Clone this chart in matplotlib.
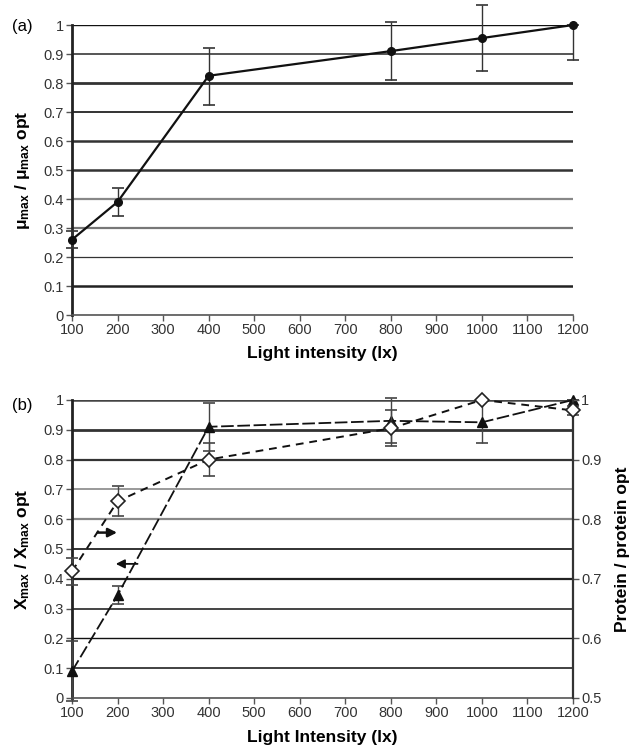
import matplotlib
matplotlib.use('Agg')
import matplotlib.pyplot as plt
from matplotlib.ticker import FormatStrFormatter

plt.rcParams['font.family'] = ['Liberation Sans', 'DejaVu Sans']
plt.rcParams['mathtext.fontset'] = 'custom'
plt.rcParams['mathtext.rm'] = 'Liberation Sans'
plt.rcParams['mathtext.bf'] = 'Liberation Sans:bold'
plt.rcParams['mathtext.default'] = 'bf'

# data
light = [100, 200, 400, 800, 1000, 1200]

# (a) growth rate
mu_rel = [0.26, 0.39, 0.825, 0.91, 0.955, 1.0]
mu_err_lo = [0.03, 0.047, 0.10, 0.10, 0.115, 0.12]
mu_err_hi = [0.03, 0.047, 0.095, 0.10, 0.115, 0.0]

# (b) biomass (left axis) and protein (right axis)
x_rel = [0.09, 0.345, 0.91, 0.93, 0.925, 1.0]
x_err = [0.10, 0.03, 0.08, 0.075, 0.07, 0.0]
protein_rel = [0.7125, 0.83, 0.90, 0.9525, 1.0, 0.9825]
protein_err = [0.023, 0.025, 0.027, 0.03, 0.0, 0.008]

x_ticks = list(range(100, 1300, 100))
y_ticks = [i / 10 for i in range(11)]
y2_ticks = [0.5, 0.6, 0.7, 0.8, 0.9, 1.0]

# gridline looks (scanned figure, uneven lines)
grid_a = [('#444444', 0.8), ('#222222', 1.8), ('#333333', 0.9), ('#777777', 1.6), ('#888888', 1.6),
          ('#333333', 1.8), ('#333333', 1.8), ('#111111', 1.2), ('#333333', 2.0), ('#555555', 1.4), ('#111111', 1.0)]
grid_b = [('#444444', 0.8), ('#333333', 1.3), ('#111111', 1.0), ('#444444', 1.4), ('#222222', 1.6),
          ('#222222', 1.3), ('#888888', 1.6), ('#999999', 1.4), ('#333333', 1.6), ('#333333', 2.0), ('#444444', 1.8)]

fig = plt.figure(figsize=(6.35, 7.49), dpi=100)
ax1 = fig.add_axes([0.1134, 0.5794, 0.789, 0.3872])
ax2 = fig.add_axes([0.1134, 0.0681, 0.789, 0.3979])


def style_axes(ax, grid):
    ax.set_xlim(100, 1200)
    ax.set_ylim(0, 1)
    ax.set_xticks(x_ticks)
    ax.set_yticks(y_ticks)
    ax.yaxis.set_major_formatter(FormatStrFormatter('%g'))
    for y, (c, lw) in zip(y_ticks, grid):
        ax.axhline(y, color=c, lw=lw, zorder=1)
    ax.spines['top'].set_visible(False)
    ax.spines['right'].set_visible(False)
    ax.spines['left'].set_linewidth(2.0)
    ax.spines['left'].set_color('#222222')
    ax.spines['bottom'].set_linewidth(1.2)
    ax.spines['bottom'].set_color('#555555')
    ax.tick_params(axis='both', labelsize=10.5, labelcolor='#333333', length=4, width=1,
                   color='#555555', pad=2)
    ax.yaxis.set_label_coords(-0.08, 0.5)
    ax.xaxis.set_label_coords(0.495, -0.108)


# panel (a)
style_axes(ax1, grid_a)
ax1.errorbar(light, mu_rel, yerr=[mu_err_lo, mu_err_hi], fmt='none', ecolor='#333333',
             elinewidth=1.0, capsize=4, capthick=1.2, zorder=3, clip_on=False)
ax1.plot(light, mu_rel, color='#111111', lw=1.6, marker='o', ms=5.5, zorder=4, clip_on=False)
ax1.set_xlabel('Light intensity (lx)', fontsize=12.5, fontweight='bold')
ax1.set_ylabel('μ$_{max}$ / μ$_{max}$ opt', fontsize=12.5, fontweight='bold')
ax1.text(-0.12, 0.995, '(a)', transform=ax1.transAxes, fontsize=12, va='center', ha='left')

# panel (b)
style_axes(ax2, grid_b)
ax2.errorbar(light, x_rel, yerr=x_err, fmt='none', ecolor='#444444', elinewidth=1.0,
             capsize=4, capthick=1.2, zorder=3, clip_on=False)
ax2.plot(light, x_rel, color='#111111', lw=1.3, ls=(0, (7, 2)), marker='^', ms=7,
         zorder=4, clip_on=False)
ax2.set_xlabel('Light Intensity (lx)', fontsize=12.5, fontweight='bold')
ax2.set_ylabel('X$_{max}$ / X$_{max}$ opt', fontsize=12.5, fontweight='bold')
ax2.text(-0.12, 0.98, '(b)', transform=ax2.transAxes, fontsize=12, va='center', ha='left')

ax2r = ax2.twinx()
ax2r.set_ylim(0.5, 1.0)
ax2r.set_yticks(y2_ticks)
ax2r.yaxis.set_major_formatter(FormatStrFormatter('%g'))
ax2r.errorbar(light, protein_rel, yerr=protein_err, fmt='none', ecolor='#444444',
              elinewidth=1.0, capsize=4, capthick=1.2, zorder=3, clip_on=False)
ax2r.plot(light, protein_rel, color='#111111', lw=1.4, ls=(0, (4, 3)), marker='D', ms=7,
          mfc='white', mec='#222222', mew=1.2, zorder=4, clip_on=False)
for s in ['top', 'left', 'bottom']:
    ax2r.spines[s].set_visible(False)
ax2r.spines['right'].set_linewidth(1.6)
ax2r.spines['right'].set_color('#333333')
ax2r.tick_params(axis='y', labelsize=10.5, labelcolor='#333333', length=4, width=1,
                 color='#555555', pad=2)
ax2r.set_ylabel('Protein / protein opt', fontsize=12.5, fontweight='bold')
ax2r.yaxis.set_label_coords(1.084, 0.5)

# arrows pointing to each series' axis
ax2.annotate('', xy=(205, 0.555), xytext=(150, 0.555),
             arrowprops=dict(arrowstyle='-|>', color='#111111', lw=1.8, mutation_scale=13))
ax2.annotate('', xy=(190, 0.45), xytext=(250, 0.45),
             arrowprops=dict(arrowstyle='-|>', color='#111111', lw=1.3, mutation_scale=13))

fig.savefig('out.png', dpi=100)
